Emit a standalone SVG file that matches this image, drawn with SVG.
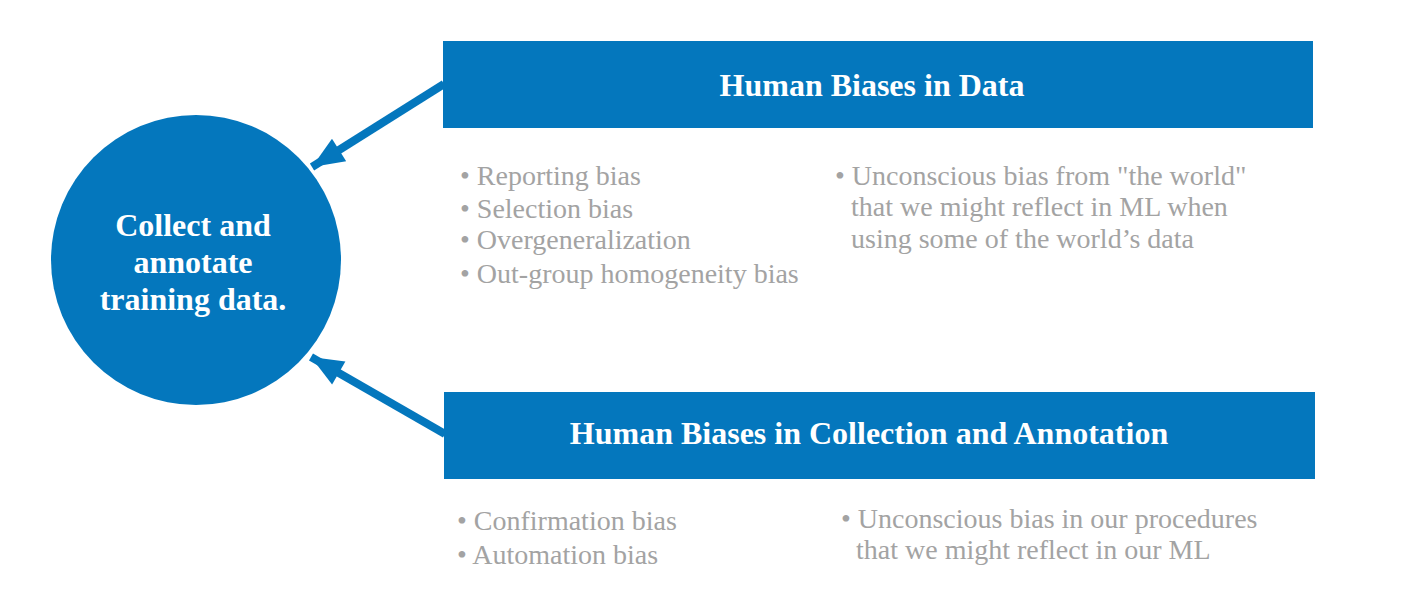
<svg xmlns="http://www.w3.org/2000/svg" width="1403" height="615" viewBox="0 0 1403 615">
<style>
.box{fill:#0477BD}
.title{font-family:"Liberation Serif",serif;font-weight:bold;font-size:32px;fill:#fff;text-anchor:middle}
.item{font-family:"Liberation Serif",serif;font-size:28px;fill:#A3A3A3}
.conn{stroke:#0477BD;stroke-width:8;fill:none}
</style>
<defs>
<marker id="ah" markerUnits="userSpaceOnUse" markerWidth="40" markerHeight="40" refX="0" refY="0" viewBox="-40 -20 45 40" orient="auto">
<path d="M0,0 L-36,-15 L-36,15 Z" fill="#0477BD"/>
</marker>
</defs>
<rect width="1403" height="615" fill="#fff"/>
<g id="connectors">
<line class="conn" x1="444" y1="84" x2="312" y2="167" marker-end="url(#ah)"/>
<line class="conn" x1="445" y1="434" x2="311" y2="357" marker-end="url(#ah)"/>
</g>
<g id="circle">
<circle cx="196" cy="260" r="145" class="box"/>
<text class="title" x="193" y="236">Collect and</text>
<text class="title" x="193" y="273">annotate</text>
<text class="title" x="193" y="310">training data.</text>
</g>
<g id="data">
<rect class="box" x="443" y="41" width="870" height="87"/>
<text class="title" x="872" y="96">Human Biases in Data</text>
</g>
<g id="data-list">
<text class="item" x="460" y="185">• Reporting bias</text>
<text class="item" x="460" y="218">• Selection bias</text>
<text class="item" x="460" y="249">• Overgeneralization</text>
<text class="item" x="460" y="283">• Out-group homogeneity bias</text>
</g>
<g id="data-note">
<text class="item" x="835" y="185">• Unconscious bias from "the world"</text>
<text class="item" x="851" y="216">that we might reflect in ML when</text>
<text class="item" x="851" y="248">using some of the world’s data</text>
</g>
<g id="collection">
<rect class="box" x="444" y="392" width="871" height="87"/>
<text class="title" x="869" y="444">Human Biases in Collection and Annotation</text>
</g>
<g id="collection-list">
<text class="item" x="457" y="530">• Confirmation bias</text>
<text class="item" x="457" y="564">• Automation bias</text>
</g>
<g id="collection-note">
<text class="item" x="841" y="528">• Unconscious bias in our procedures</text>
<text class="item" x="856" y="559">that we might reflect in our ML</text>
</g>
</svg>
